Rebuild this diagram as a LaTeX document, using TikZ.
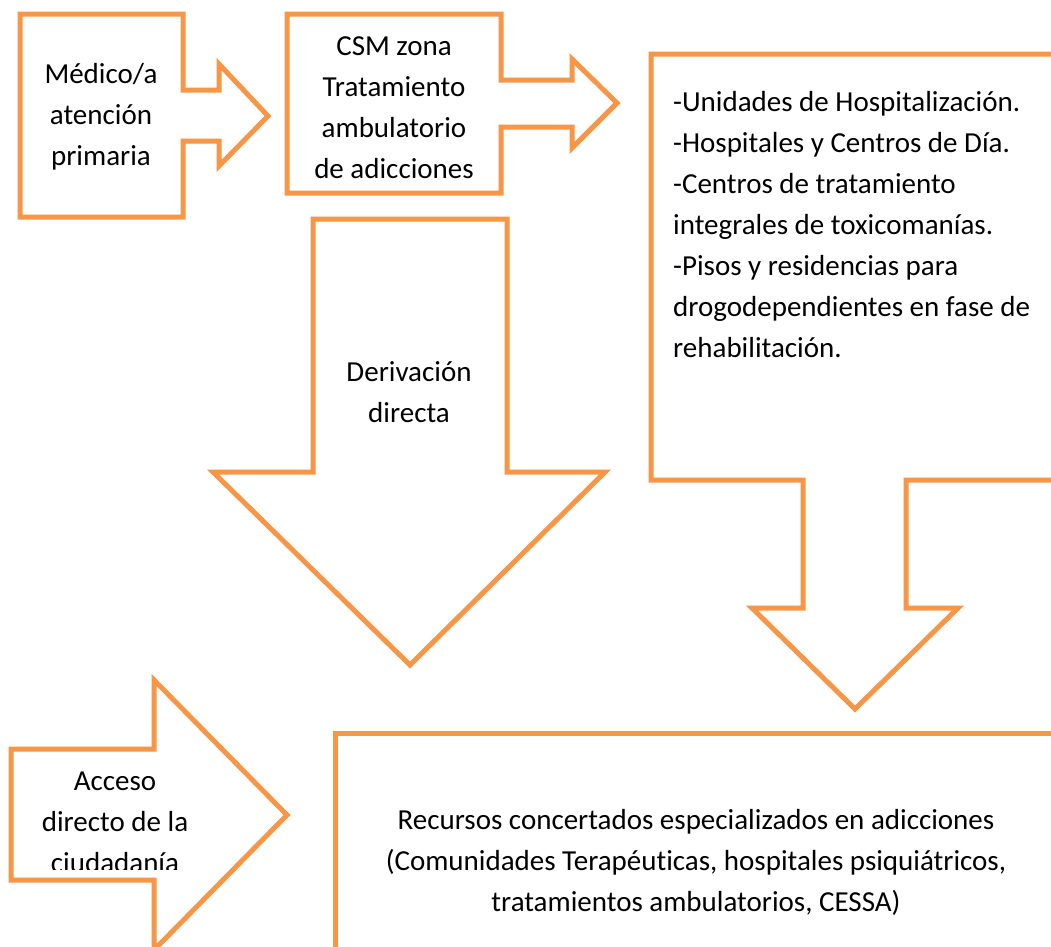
\documentclass[tikz,border=0pt]{standalone}
\usepackage{fontspec}
\setmainfont{Carlito}[Ligatures=NoCommon]
\definecolor{accentorange}{HTML}{F79646}
\begin{document}
\begin{tikzpicture}[x=1pt,y=-1pt,
  shapeline/.style={draw=accentorange, line width=5pt, line join=miter, fill=white},
  lbl/.style={font=\fontsize{29}{41}\selectfont, align=center, inner sep=0pt, text=black}]
\fill[white] (0,0) rectangle (1051,946);
\useasboundingbox (0,0) rectangle (1051,946);
\clip (0,0) rectangle (1051,946);
% Medico callout
\draw[shapeline] (20,14) -- (183,14) -- (183,90) -- (219,90) -- (219,64) -- (268,116)
  -- (219,166) -- (219,141) -- (183,141) -- (183,217) -- (20,217) -- cycle;
\node[lbl] (medico) at (101,117) {Médico/a\\atención\\primaria};
% CSM callout
\draw[shapeline] (287,14) -- (501,14) -- (501,80) -- (572,80) -- (572,59) -- (617,103)
  -- (572,148) -- (572,127) -- (501,127) -- (501,193) -- (287,193) -- cycle;
\node[lbl] (csm) at (394,108) {CSM zona\\Tratamiento\\ambulatorio\\de adicciones};
% Big box with down arrow
\draw[shapeline] (1070,54) -- (651,54) -- (651,480) -- (803,480) -- (803,608) -- (752,608)
  -- (855,709) -- (958,608) -- (906,608) -- (906,480) -- (1070,480);
\node[lbl, align=left, anchor=west] (units) at (673,225) {-Unidades de Hospitalización.\\-Hospitales y Centros de Día.\\-Centros de tratamiento\\integrales de toxicomanías.\\-Pisos y residencias para\\drogodependientes en fase de\\rehabilitación.};
% Derivacion arrow
\draw[shapeline] (313,219) -- (507,219) -- (507,472) -- (605,472) -- (410,665) -- (213,472)
  -- (313,472) -- cycle;
\node[lbl] (deriv) at (409,392) {Derivación\\directa};
% Acceso arrow
\draw[shapeline] (11,749) -- (154,749) -- (154,680) -- (287,815) -- (154,950) -- (154,880)
  -- (11,880) -- cycle;
\begin{scope}
\clip (0,700) rectangle (300,869);
\node[lbl] (acceso) at (115,822) {Acceso\\directo de la\\ciudadanía};
\end{scope}
% Recursos box
\draw[shapeline] (335,980) -- (335,733) -- (1070,733);
\node[lbl] (recursos) at (696,862) {Recursos concertados especializados en adicciones\\(Comunidades Terapéuticas, hospitales psiquiátricos,\\tratamientos ambulatorios, CESSA)};
\end{tikzpicture}
\end{document}
